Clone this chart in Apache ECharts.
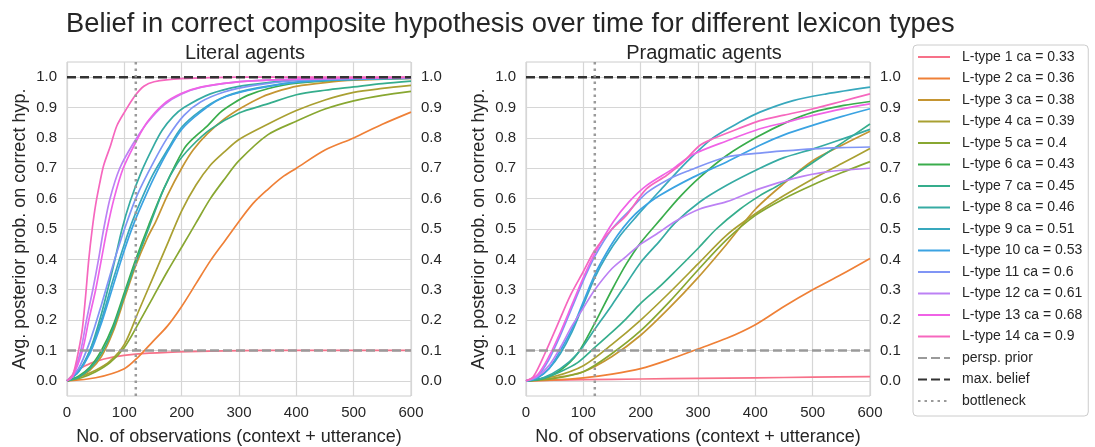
<!DOCTYPE html>
<html lang="en">
<head>
<meta charset="utf-8">
<title>Belief in correct composite hypothesis</title>
<script src="https://cdn.jsdelivr.net/npm/echarts@6/dist/echarts.min.js"></script>
<style>
  html, body { margin: 0; padding: 0; background: #fff; }
  #main { width: 1095px; height: 447px; }
</style>
</head>
<body>
<div id="main"></div>
<script>
// legend entries
var lTypeNames = ['L-type 1 ca = 0.33', 'L-type 2 ca = 0.36', 'L-type 3 ca = 0.38', 'L-type 4 ca = 0.39',
  'L-type 5 ca = 0.4', 'L-type 6 ca = 0.43', 'L-type 7 ca = 0.45', 'L-type 8 ca = 0.46',
  'L-type 9 ca = 0.51', 'L-type 10 ca = 0.53', 'L-type 11 ca = 0.6', 'L-type 12 ca = 0.61',
  'L-type 13 ca = 0.68', 'L-type 14 ca = 0.9'];
var lTypeColors = ['#f77189', '#ef8037', '#c59532', '#a9a032', '#88a731', '#3aad4c', '#35ad8c',
  '#36aba3', '#38a8bd', '#3ba3e2', '#8095f5', '#bc81f4', '#f062e6', '#f667be'];
var yTicks = [0, 0.1, 0.2, 0.3, 0.4, 0.5, 0.6, 0.7, 0.8, 0.9, 1.0];

// literal agents: [observations, avg. posterior]
var lit1 = [[0,0],[10,0.02],[20,0.036],[30,0.048],[50,0.064],[80,0.078],[120,0.088],[175,0.094],[250,0.098],[350,0.1],[600,0.1]];
var lit2 = [[0,0],[50,0.01],[100,0.04],[125,0.08],[150,0.13],[175,0.18],[200,0.245],[225,0.32],[250,0.395],[275,0.46],[300,0.525],[325,0.585],[350,0.63],[375,0.67],[400,0.7],[450,0.76],[500,0.8],[550,0.845],[600,0.885]];
var lit3 = [[0,0],[20,0.012],[40,0.035],[60,0.08],[80,0.16],[100,0.27],[120,0.38],[140,0.47],[155,0.525],[175,0.61],[200,0.7],[220,0.76],[245,0.814],[275,0.863],[305,0.9],[340,0.935],[375,0.958],[400,0.97],[450,0.982],[500,0.99],[600,0.996]];
var lit4 = [[0,0],[25,0.015],[50,0.035],[75,0.065],[100,0.12],[125,0.23],[150,0.34],[175,0.45],[200,0.56],[225,0.645],[250,0.71],[275,0.755],[300,0.795],[350,0.845],[400,0.89],[450,0.925],[500,0.95],[550,0.963],[600,0.973]];
var lit5 = [[0,0],[25,0.01],[50,0.03],[75,0.06],[100,0.11],[125,0.19],[150,0.275],[175,0.36],[200,0.44],[225,0.52],[250,0.6],[275,0.665],[300,0.725],[350,0.81],[400,0.855],[450,0.895],[500,0.922],[550,0.94],[600,0.953]];
var lit6 = [[0,0],[20,0.015],[40,0.045],[60,0.1],[80,0.18],[100,0.29],[120,0.4],[143,0.515],[169,0.633],[204,0.764],[221,0.8],[245,0.84],[268,0.885],[291,0.915],[315,0.94],[350,0.962],[400,0.98],[500,0.993],[600,0.997]];
var lit7 = [[0,0],[20,0.012],[40,0.04],[60,0.09],[80,0.17],[100,0.28],[120,0.39],[140,0.49],[169,0.633],[192,0.715],[216,0.77],[250,0.828],[300,0.882],[350,0.912],[400,0.942],[450,0.957],[500,0.968],[550,0.979],[600,0.987]];
var lit8 = [[0,0],[20,0.03],[40,0.1],[60,0.22],[80,0.37],[96,0.5],[110,0.59],[130,0.69],[150,0.77],[166,0.825],[185,0.87],[204,0.9],[250,0.945],[300,0.97],[350,0.982],[400,0.99],[500,0.996],[600,0.998]];
var lit9 = [[0,0],[20,0.03],[40,0.1],[60,0.2],[80,0.33],[100,0.45],[115,0.53],[135,0.62],[150,0.68],[175,0.76],[200,0.835],[233,0.89],[268,0.93],[315,0.958],[400,0.984],[500,0.993],[600,0.997]];
var lit10 = [[0,0],[20,0.03],[40,0.09],[60,0.19],[80,0.31],[100,0.43],[117,0.52],[135,0.6],[151,0.666],[175,0.753],[201,0.83],[233,0.885],[268,0.929],[315,0.956],[400,0.983],[500,0.993],[600,0.997]];
var lit11 = [[0,0],[20,0.04],[40,0.13],[60,0.25],[80,0.38],[95,0.47],[104,0.52],[122,0.61],[151,0.72],[175,0.8],[204,0.874],[233,0.918],[274,0.951],[326,0.973],[400,0.989],[500,0.996],[600,0.998]];
var lit12 = [[0,0],[10,0.02],[24,0.1],[34,0.2],[45,0.3],[55,0.4],[64,0.5],[75,0.6],[92,0.7],[115,0.78],[140,0.85],[170,0.91],[200,0.945],[235,0.967],[290,0.983],[350,0.99],[450,0.996],[600,0.999]];
var lit13 = [[0,0],[10,0.015],[27,0.1],[38,0.2],[50,0.3],[60,0.4],[70,0.5],[82,0.6],[98,0.7],[120,0.786],[140,0.852],[169,0.912],[198,0.945],[233,0.967],[291,0.983],[350,0.99],[450,0.995],[600,0.999]];
var lit14 = [[0,0],[10,0.02],[17,0.07],[26,0.16],[32,0.27],[38,0.4],[44,0.5],[50,0.58],[57,0.65],[64,0.71],[76,0.775],[87,0.84],[102,0.89],[117,0.935],[134,0.97],[152,0.985],[200,0.995],[300,1.0],[600,1.0]];

// pragmatic agents
var prag1 = [[0,0],[50,0.002],[100,0.004],[200,0.006],[300,0.008],[400,0.01],[500,0.012],[600,0.014]];
var prag2 = [[0,0],[50,0.003],[100,0.01],[150,0.022],[200,0.04],[250,0.07],[300,0.105],[350,0.14],[400,0.185],[450,0.245],[500,0.3],[550,0.35],[600,0.403]];
var prag3 = [[0,0],[50,0.01],[100,0.03],[150,0.08],[200,0.15],[250,0.24],[300,0.34],[350,0.45],[400,0.565],[450,0.65],[500,0.725],[550,0.775],[600,0.822]];
var prag4 = [[0,0],[50,0.015],[100,0.05],[150,0.12],[200,0.2],[250,0.29],[300,0.385],[350,0.48],[400,0.55],[450,0.61],[500,0.665],[550,0.715],[600,0.765]];
var prag5 = [[0,0],[50,0.008],[100,0.03],[150,0.09],[200,0.165],[250,0.26],[300,0.365],[350,0.465],[400,0.545],[450,0.6],[500,0.645],[550,0.685],[600,0.722]];
var prag6 = [[0,0],[30,0.008],[60,0.035],[90,0.09],[120,0.19],[150,0.3],[175,0.385],[200,0.455],[236,0.535],[268,0.605],[303,0.67],[350,0.742],[402,0.802],[455,0.852],[501,0.885],[554,0.907],[600,0.92]];
var prag7 = [[0,0],[30,0.008],[60,0.03],[90,0.06],[120,0.11],[150,0.16],[175,0.205],[200,0.255],[233,0.31],[260,0.36],[302,0.44],[332,0.5],[373,0.565],[408,0.61],[443,0.647],[501,0.72],[554,0.787],[600,0.846]];
var prag8 = [[0,0],[30,0.01],[60,0.04],[90,0.09],[120,0.17],[150,0.25],[175,0.32],[200,0.39],[233,0.46],[260,0.52],[303,0.589],[350,0.644],[408,0.7],[450,0.735],[501,0.764],[550,0.795],[600,0.828]];
var prag9 = [[0,0],[20,0.01],[40,0.04],[60,0.09],[80,0.16],[100,0.25],[120,0.34],[140,0.41],[165,0.48],[192,0.54],[233,0.625],[280,0.72],[326,0.8],[373,0.852],[408,0.885],[466,0.923],[524,0.945],[600,0.967]];
var prag10 = [[0,0],[20,0.01],[40,0.04],[60,0.1],[80,0.17],[100,0.26],[120,0.35],[140,0.42],[160,0.48],[181,0.53],[200,0.565],[233,0.61],[291,0.67],[350,0.721],[408,0.776],[450,0.81],[501,0.842],[550,0.87],[600,0.896]];
var prag11 = [[0,0],[20,0.015],[40,0.07],[60,0.15],[80,0.24],[100,0.33],[120,0.41],[150,0.5],[180,0.56],[211,0.62],[250,0.665],[281,0.69],[350,0.737],[408,0.75],[450,0.757],[501,0.764],[550,0.768],[600,0.77]];
var prag12 = [[0,0],[20,0.015],[40,0.05],[60,0.11],[80,0.18],[100,0.24],[120,0.3],[150,0.37],[175,0.41],[200,0.45],[233,0.49],[260,0.525],[303,0.566],[350,0.59],[408,0.633],[466,0.666],[524,0.688],[600,0.7]];
var prag13 = [[0,0],[20,0.02],[40,0.08],[60,0.16],[80,0.25],[100,0.34],[120,0.42],[152,0.523],[180,0.59],[210,0.643],[256,0.698],[291,0.745],[350,0.79],[408,0.83],[450,0.85],[501,0.874],[550,0.895],[600,0.912]];
var prag14 = [[0,0],[13,0.014],[33,0.09],[54,0.18],[77,0.28],[100,0.36],[120,0.43],[150,0.5],[175,0.545],[210,0.632],[245,0.676],[274,0.72],[303,0.775],[326,0.797],[370,0.83],[408,0.857],[450,0.875],[501,0.896],[550,0.92],[600,0.945]];

// reference lines
var priorLine = [[0, 0.1], [600, 0.1]];
var maxLine = [[0, 1], [600, 1]];
var bottleneckLine = [[120, -0.05], [120, 1.05]];

var literalData = [lit1, lit2, lit3, lit4, lit5, lit6, lit7, lit8, lit9, lit10, lit11, lit12, lit13, lit14];
var pragmaticData = [prag1, prag2, prag3, prag4, prag5, prag6, prag7, prag8, prag9, prag10, prag11, prag12, prag13, prag14];

var FONT = 'Liberation Sans, Arial, sans-serif';
var TXT = '#262626';

var myChart = echarts.init(document.getElementById('main'), null, { renderer: 'canvas' });

function xAxisFor(gi) {
  return {
    type: 'value', gridIndex: gi, min: 0, max: 600, interval: 100,
    name: 'No. of observations (context + utterance)', nameLocation: 'middle', nameGap: 32,
    nameTextStyle: { fontSize: 18, color: TXT, fontFamily: FONT },
    axisLine: { show: false }, axisTick: { show: false },
    axisLabel: { fontSize: 15, color: TXT, fontFamily: FONT, margin: 9 },
    splitLine: { lineStyle: { color: '#d6d6d6', width: 1.2 } }
  };
}
function yAxisFor(gi, side) {
  var ax = {
    type: 'value', gridIndex: gi, min: -0.05, max: 1.05, position: side,
    axisLine: { show: false },
    axisTick: { show: false, customValues: yTicks },
    axisLabel: { fontSize: 15, color: TXT, fontFamily: FONT, margin: 10, customValues: yTicks,
      formatter: function (v) { return v.toFixed(1); } },
    splitLine: { show: side === 'left', lineStyle: { color: '#d6d6d6', width: 1.2 } }
  };
  if (side === 'left') {
    ax.name = 'Avg. posterior prob. on correct hyp.';
    ax.nameLocation = 'middle';
    ax.nameGap = 38;
    ax.nameTextStyle = { fontSize: 18, color: TXT, fontFamily: FONT };
  }
  return ax;
}

var series = [];
[literalData, pragmaticData].forEach(function (panel, gi) {
  panel.forEach(function (d, i) {
    series.push({
      name: lTypeNames[i], type: 'line', xAxisIndex: gi, yAxisIndex: gi * 2,
      data: d, symbol: 'none', smooth: 0.3, z: 3,
      lineStyle: { color: lTypeColors[i], width: 1.7 },
      itemStyle: { color: lTypeColors[i] }
    });
  });
  series.push({
    name: 'persp. prior', type: 'line', xAxisIndex: gi, yAxisIndex: gi * 2, data: priorLine,
    symbol: 'none', z: 4, lineStyle: { color: '#9a9a9a', width: 2.5, type: [9, 4] },
    itemStyle: { color: '#9a9a9a' }
  });
  series.push({
    name: 'max. belief', type: 'line', xAxisIndex: gi, yAxisIndex: gi * 2, data: maxLine,
    symbol: 'none', z: 4, lineStyle: { color: '#333333', width: 2.5, type: [9, 4] },
    itemStyle: { color: '#333333' }
  });
  series.push({
    name: 'bottleneck', type: 'line', xAxisIndex: gi, yAxisIndex: gi * 2, data: bottleneckLine,
    symbol: 'none', z: 4, lineStyle: { color: '#9a9a9a', width: 2.5, type: [2.5, 4] },
    itemStyle: { color: '#9a9a9a' }
  });
});

var option = {
  animation: false,
  backgroundColor: '#ffffff',
  title: [
    { text: 'Belief in correct composite hypothesis over time for different lexicon types',
      left: 61, top: 6, textStyle: { fontSize: 27.3, fontWeight: 'normal', color: TXT, fontFamily: FONT } },
    { text: 'Literal agents', left: 240, top: 38, textAlign: 'center',
      textStyle: { fontSize: 20, fontWeight: 'normal', color: TXT, fontFamily: FONT } },
    { text: 'Pragmatic agents', left: 699, top: 38, textAlign: 'center',
      textStyle: { fontSize: 20, fontWeight: 'normal', color: TXT, fontFamily: FONT } }
  ],
  legend: {
    orient: 'vertical', left: 913, top: 45,
    data: lTypeNames.concat(['persp. prior', 'max. belief', 'bottleneck']),
    itemWidth: 32, itemHeight: 14, itemGap: 7.5,
    padding: [5, 6, 8, 4],
    itemStyle: { opacity: 0 },
    backgroundColor: '#ffffff', borderColor: '#cccccc', borderWidth: 1, borderRadius: 4,
    textStyle: { fontSize: 14, color: TXT, fontFamily: FONT, padding: [0, 0, 0, 7] }
  },
  grid: [
    { left: 67, top: 62, width: 344, height: 334, outerBoundsMode: 'none', containLabel: false,
      show: true, borderColor: '#cccccc', borderWidth: 1, backgroundColor: 'transparent' },
    { left: 526, top: 62, width: 344, height: 334, outerBoundsMode: 'none', containLabel: false,
      show: true, borderColor: '#cccccc', borderWidth: 1, backgroundColor: 'transparent' }
  ],
  xAxis: [xAxisFor(0), xAxisFor(1)],
  yAxis: [yAxisFor(0, 'left'), yAxisFor(0, 'right'), yAxisFor(1, 'left'), yAxisFor(1, 'right')],
  series: series
};
myChart.setOption(option);
</script>
</body>
</html>
